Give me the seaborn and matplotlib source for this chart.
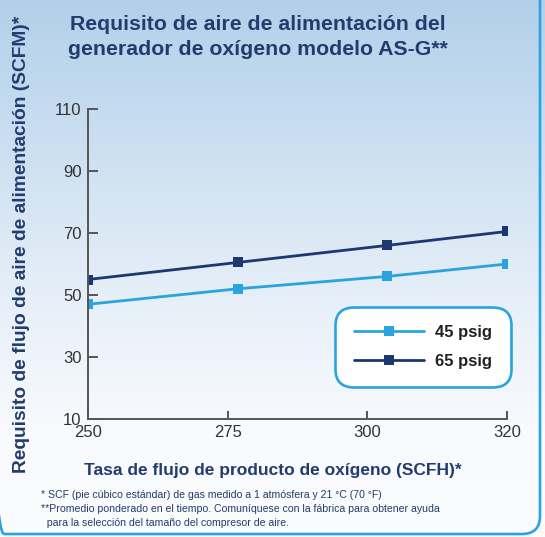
import numpy as np
import pandas as pd
import matplotlib
matplotlib.use("Agg")
import matplotlib.pyplot as plt
import seaborn as sns
from matplotlib.patches import FancyBboxPatch
from matplotlib.colors import LinearSegmentedColormap

# ---- data ----
flow_scfh = [250, 275, 300, 320]
air_45 = [47, 52, 56, 60]
air_65 = [55, 60.5, 66, 70.5]
series_labels = ["45 psig", "65 psig"]
x_tick_labels = ["250", "275", "300", "320"]
y_ticks = [10, 30, 50, 70, 90, 110]

title = "Requisito de aire de alimentación del\ngenerador de oxígeno modelo AS-G**"
xlabel = "Tasa de flujo de producto de oxígeno (SCFH)*"
ylabel = "Requisito de flujo de aire de alimentación (SCFM)*"
notes = ["* SCF (pie cúbico estándar) de gas medido a 1 atmósfera y 21 °C (70 °F)",
         "**Promedio ponderado en el tiempo. Comuníquese con la fábrica para obtener ayuda",
         "  para la selección del tamaño del compresor de aire."]

df = pd.DataFrame({
    "flow": flow_scfh * 2,
    "air": air_45 + air_65,
    "series": [series_labels[0]] * 4 + [series_labels[1]] * 4,
})

LIGHT = "#2aa3de"
NAVY = "#1d3770"
TEXTNAVY = "#223c6e"

sns.set_theme(style="white")
plt.rcParams["font.family"] = ["Liberation Sans", "DejaVu Sans"]

W, H = 545, 537
fig = plt.figure(figsize=(W / 100, H / 100), dpi=100)

# background gradient
bg = fig.add_axes([0, 0, 1, 1], zorder=-10)
cmap = LinearSegmentedColormap.from_list("bg", [(0, "#b2d0ea"), (0.55, "#e6eff8"), (0.8, "#f8fafd"), (1, "#fbfcfe")])
grad = np.linspace(0, 1, 256).reshape(-1, 1)
bg.imshow(grad, aspect="auto", cmap=cmap, extent=[0, 1, 0, 1], origin="upper")
bg.set_axis_off()

# outer border (figure fraction, radius ~18 px)
border = FancyBboxPatch((-14 / W, 3 / H), (14 + 540) / W, 1.5,
                        boxstyle="round,pad=0,rounding_size=%f" % (18 / W),
                        mutation_aspect=W / H, transform=fig.transFigure,
                        facecolor="none", edgecolor=LIGHT, linewidth=1.9, zorder=5)
fig.add_artist(border)

ax = fig.add_axes([88 / W, 1 - 419 / H, (507 - 88) / W, (419 - 109) / H])
ax.patch.set_alpha(0)

sns.lineplot(data=df, x="flow", y="air", hue="series", palette=[LIGHT, NAVY],
             marker="s", markersize=7, markeredgewidth=0, linewidth=2.0, ax=ax,
             legend=True)

ax.set_xlim(250, 320)
ax.set_ylim(10, 110)
xt = np.linspace(250, 320, len(x_tick_labels))
ax.set_xticks(xt)
ax.set_xticklabels(x_tick_labels)
ax.set_yticks(y_ticks)
ax.set_yticklabels([str(v) for v in y_ticks])

for s in ["top", "right"]:
    ax.spines[s].set_visible(False)
for s in ["left", "bottom"]:
    ax.spines[s].set_color("#555555")
    ax.spines[s].set_linewidth(1.4)
ax.tick_params(axis="y", direction="in", length=7.5, width=1.4, color="#555555",
               labelsize=12, labelcolor="#333333", pad=4.5, left=True)
ax.tick_params(axis="x", direction="in", length=5.5, width=1.4, color="#555555",
               labelsize=12, labelcolor="#333333", pad=4, bottom=True)

ax.set_xlabel(xlabel, fontsize=12.5, fontweight="bold", color=TEXTNAVY)
ax.xaxis.set_label_coords((273 - 88) / 419, (419 - 470) / 310)
ax.xaxis.label.set_va("center")
ax.set_ylabel(ylabel, fontsize=13.8, fontweight="bold", color=TEXTNAVY)
ax.yaxis.set_label_coords((22 - 88) / 419, (419 - 244) / 310)
ax.yaxis.label.set_va("center")

leg = ax.legend(loc="center", bbox_to_anchor=((423 - 88) / 419, (419 - 347) / 310),
                frameon=True, fancybox=True, fontsize=12, handlelength=4.2,
                handletextpad=0.7, labelspacing=0.85, borderpad=1.1,
                borderaxespad=0)
frame = leg.get_frame()
frame.set_boxstyle("round,pad=0,rounding_size=1.1")
frame.set_edgecolor(LIGHT)
frame.set_linewidth(1.9)
frame.set_facecolor("white")
frame.set_alpha(1)
for t in leg.get_texts():
    t.set_fontweight("bold")
    t.set_color("#222222")

fig.text(258 / W, 1 - 37 / H, title, ha="center", va="center", fontsize=15.3,
         fontweight="bold", color=TEXTNAVY, linespacing=1.35)

ys = [495, 509, 523]
for txt, yy in zip(notes, ys):
    fig.text(41 / W, 1 - yy / H, txt, ha="left", va="center", fontsize=7.6,
             color=TEXTNAVY)

fig.savefig("out.png", dpi=100)
